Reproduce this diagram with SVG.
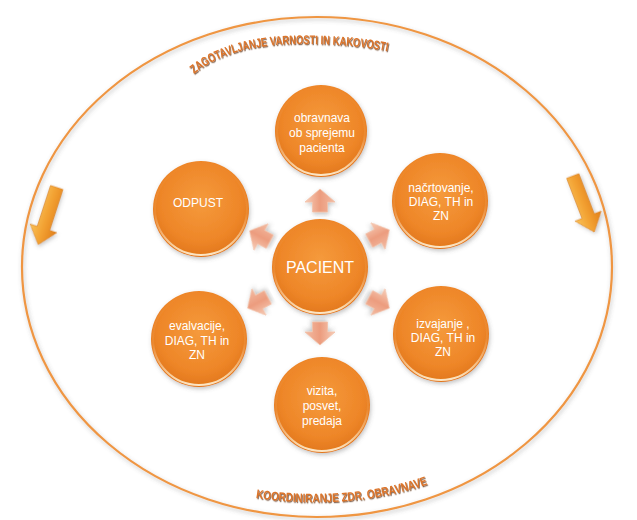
<svg xmlns="http://www.w3.org/2000/svg" width="637" height="520" viewBox="0 0 637 520">
  <defs>
    <radialGradient id="ballFill" cx="50%" cy="42%" r="60%">
      <stop offset="0" stop-color="#F59A3C"/>
      <stop offset="0.7" stop-color="#EE8628"/>
      <stop offset="1" stop-color="#E0751A"/>
    </radialGradient>
    <linearGradient id="rimLight" x1="0" y1="0" x2="0" y2="1">
      <stop offset="0" stop-color="#FFE6C0" stop-opacity="0"/>
      <stop offset="0.55" stop-color="#FFE6C0" stop-opacity="0.1"/>
      <stop offset="1" stop-color="#FFF2D8" stop-opacity="0.9"/>
    </linearGradient>
    <linearGradient id="petalFill" x1="0" y1="0" x2="1" y2="0">
      <stop offset="0" stop-color="#F7CDB8"/>
      <stop offset="0.5" stop-color="#EC9C7E"/>
      <stop offset="1" stop-color="#F3BBA2"/>
    </linearGradient>
    <linearGradient id="sideFill" x1="0" y1="0" x2="1" y2="0">
      <stop offset="0" stop-color="#F9C25A"/>
      <stop offset="0.5" stop-color="#F2A031"/>
      <stop offset="1" stop-color="#E07E1A"/>
    </linearGradient>
    <filter id="softShadow" x="-20%" y="-20%" width="140%" height="140%">
      <feDropShadow dx="1" dy="2" stdDeviation="2" flood-color="#555" flood-opacity="0.35"/>
    </filter>
    <filter id="textShadow" x="-5%" y="-30%" width="110%" height="160%">
      <feDropShadow dx="0.8" dy="1.2" stdDeviation="0.6" flood-color="#5A2E0A" flood-opacity="0.75"/>
    </filter>
    <path id="topArc" d="M194,74 C222,51 262,44 300,44 C340,44 370,47 396,53"/>
    <path id="bottomArc" d="M256,498 C300,505 372,506 434,482"/>
    <!-- block arrow pointing up, centred on its own origin -->
    <path id="petal" d="M0,-13 L15,0 L7.5,0 L7.5,10 L-7.5,10 L-7.5,0 L-15,0 Z"/>
    <!-- long arrow pointing down, centred on its own origin -->
    <path id="sideArrow" d="M-6.5,-30 L6.5,-30 L6.5,13 L14,13 L0,30 L-14,13 L-6.5,13 Z"/>
  </defs>
  <style>
    .ball { fill: url(#ballFill); filter: url(#softShadow); }
    .rim { fill: none; stroke: url(#rimLight); stroke-width: 2; }
    .label { font-family: "Liberation Sans", Arial, sans-serif; font-size: 12px; fill: #FFFFFF; text-anchor: middle; }
    .big { font-size: 16px; }
    .arc-text { font-family: "Liberation Sans Narrow", "Liberation Sans", Arial, sans-serif; font-weight: bold; font-size: 12.5px; fill: #DC742A; filter: url(#textShadow); }
    .petal { fill: url(#petalFill); stroke: #F2C2A8; stroke-width: 0.8; filter: url(#softShadow); }
    .side { fill: url(#sideFill); stroke: #D9801E; stroke-width: 0.6; filter: url(#softShadow); }
  </style>

  <rect width="637" height="520" fill="#FFFFFF"/>

  <!-- outer cycle frame -->
  <g id="frame">
    <ellipse cx="317" cy="267" rx="295" ry="250" fill="none" stroke="#EF9643" stroke-width="2.2" filter="url(#softShadow)"/>
    <text class="arc-text"><textPath href="#topArc" textLength="200" lengthAdjust="spacingAndGlyphs">ZAGOTAVLJANJE VARNOSTI IN KAKOVOSTI</textPath></text>
    <text class="arc-text"><textPath href="#bottomArc" textLength="174" lengthAdjust="spacingAndGlyphs">KOORDINIRANJE ZDR. OBRAVNAVE</textPath></text>
    <use href="#sideArrow" class="side" transform="translate(47.5,216) rotate(18)"/>
    <use href="#sideArrow" class="side" transform="translate(583.5,204) rotate(-21)"/>
  </g>

  <!-- connectors from the centre outwards -->
  <g id="connectors">
    <use href="#petal" class="petal" transform="translate(320,202)"/>
    <use href="#petal" class="petal" transform="translate(378,236) rotate(62)"/>
    <use href="#petal" class="petal" transform="translate(378,302) rotate(118)"/>
    <use href="#petal" class="petal" transform="translate(320,332) rotate(180)"/>
    <use href="#petal" class="petal" transform="translate(259,302) rotate(-118)"/>
    <use href="#petal" class="petal" transform="translate(261,237) rotate(-62)"/>
  </g>

  <g id="node-pacient">
    <circle class="ball" cx="320" cy="267" r="48"/>
    <circle class="rim" cx="320" cy="267" r="46"/>
    <text class="label big" x="320" y="273">PACIENT</text>
  </g>

  <g id="node-sprejem">
    <circle class="ball" cx="321" cy="131" r="46"/>
    <circle class="rim" cx="321" cy="131" r="44"/>
    <text class="label" x="322" y="121.5">obravnava</text>
    <text class="label" x="322" y="136.5">ob sprejemu</text>
    <text class="label" x="322" y="151.5">pacienta</text>
  </g>

  <g id="node-nacrtovanje">
    <circle class="ball" cx="440" cy="201" r="48"/>
    <circle class="rim" cx="440" cy="201" r="46"/>
    <text class="label" x="441" y="191.5">načrtovanje,</text>
    <text class="label" x="441" y="205.5">DIAG, TH in</text>
    <text class="label" x="441" y="219.5">ZN</text>
  </g>

  <g id="node-izvajanje">
    <circle class="ball" cx="441" cy="334" r="48"/>
    <circle class="rim" cx="441" cy="334" r="46"/>
    <text class="label" x="443" y="327.5">izvajanje ,</text>
    <text class="label" x="443" y="341.5">DIAG, TH in</text>
    <text class="label" x="443" y="355.5">ZN</text>
  </g>

  <g id="node-vizita">
    <circle class="ball" cx="322" cy="405" r="48"/>
    <circle class="rim" cx="322" cy="405" r="46"/>
    <text class="label" x="322" y="394.5">vizita,</text>
    <text class="label" x="322" y="409.5">posvet,</text>
    <text class="label" x="322" y="424.5">predaja</text>
  </g>

  <g id="node-evalvacije">
    <circle class="ball" cx="199" cy="339" r="48"/>
    <circle class="rim" cx="199" cy="339" r="46"/>
    <text class="label" x="197" y="329.5">evalvacije,</text>
    <text class="label" x="197" y="344.5">DIAG, TH in</text>
    <text class="label" x="197" y="358.5">ZN</text>
  </g>

  <g id="node-odpust">
    <circle class="ball" cx="201" cy="209" r="48"/>
    <circle class="rim" cx="201" cy="209" r="46"/>
    <text class="label" x="198" y="207" font-size="11.5">ODPUST</text>
  </g>
</svg>
